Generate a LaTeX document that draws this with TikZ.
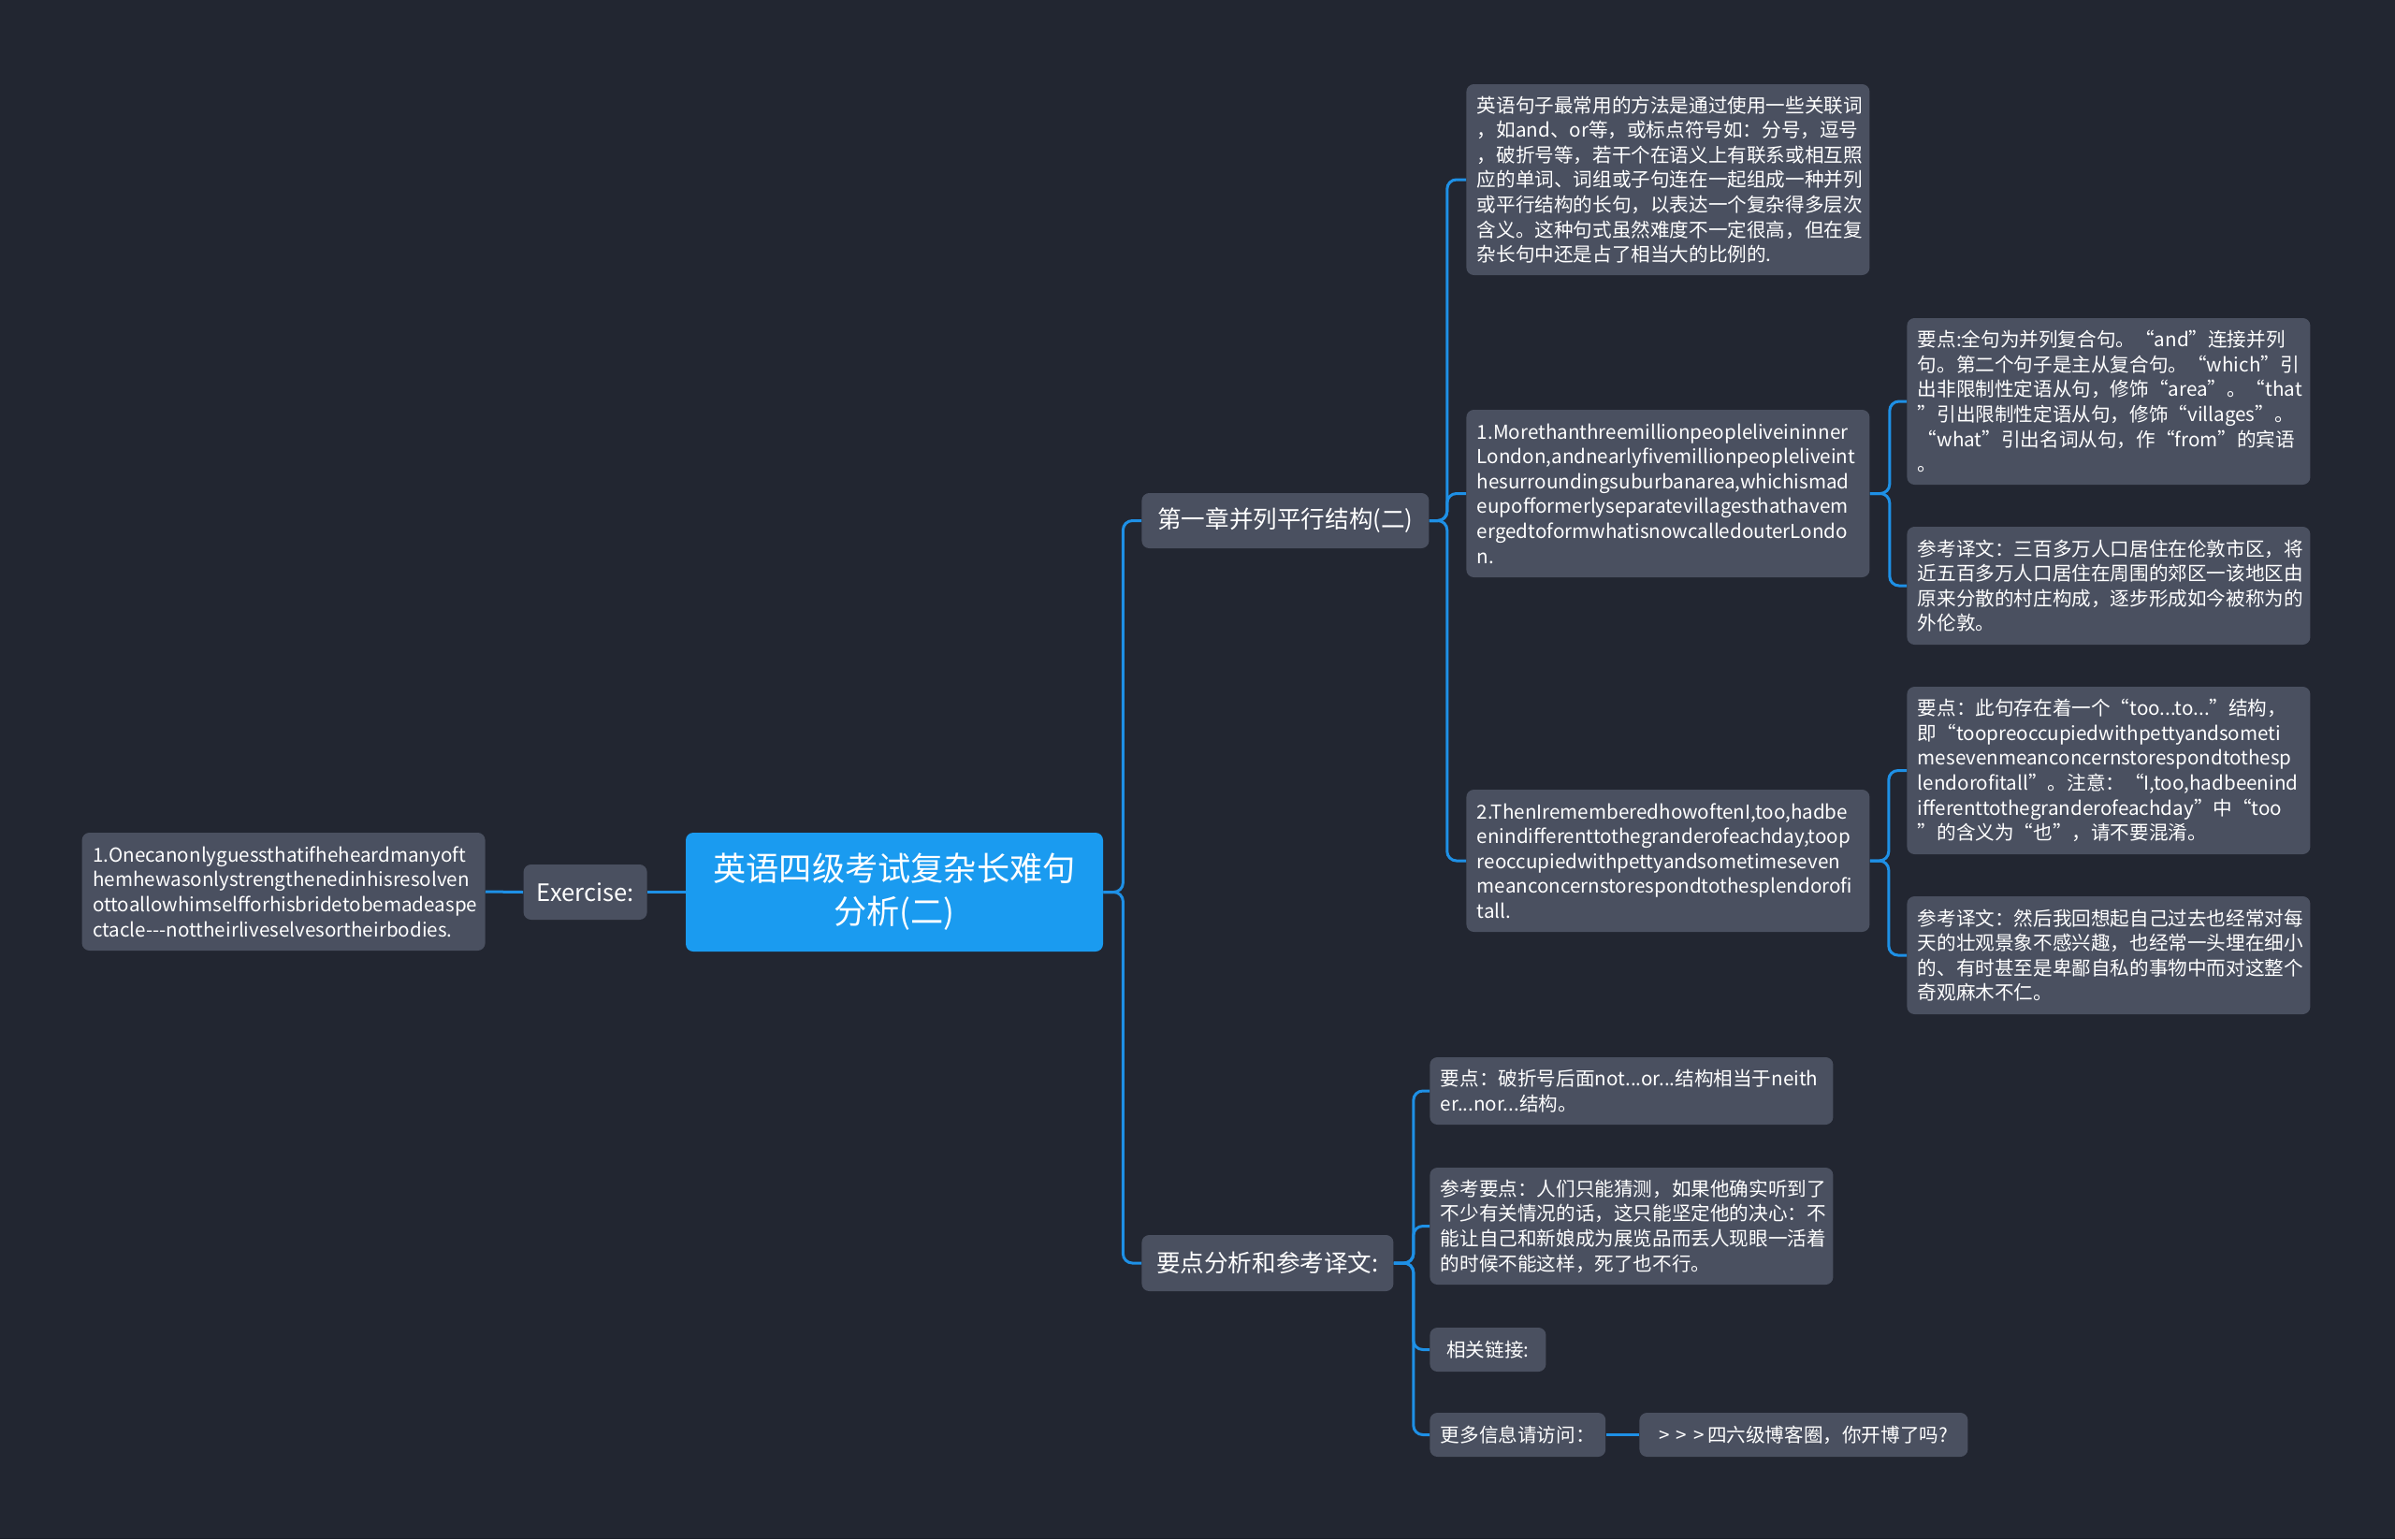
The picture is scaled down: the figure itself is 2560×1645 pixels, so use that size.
\documentclass[tikz,border=0pt]{standalone}
\usepackage{fontspec}
\setmainfont{Noto Sans CJK SC}
\usepackage{tikz}
\definecolor{bgdark}{RGB}{34,38,49}
\definecolor{nodegray}{RGB}{74,80,96}
\definecolor{rootblue}{RGB}{26,155,240}
\definecolor{linkblue}{RGB}{30,144,230}
\tikzset{
  root/.style={rectangle,rounded corners=4pt,fill=rootblue,text=white,align=center,
              font=\fontsize{17.6pt}{23pt}\selectfont,minimum width=223pt,minimum height=63.5pt,inner sep=0pt},
  topic/.style={rectangle,rounded corners=4pt,fill=nodegray,text=white,align=center,
              font=\fontsize{12.8pt}{16pt}\selectfont,minimum height=29.5pt,inner sep=0pt},
  leaf/.style={rectangle,rounded corners=4pt,fill=nodegray,text=white,align=left,
              font=\fontsize{10.3pt}{13.3pt}\selectfont,inner xsep=5.75pt,inner ysep=0pt,text width=204pt},
  tag/.style={rectangle,rounded corners=4pt,fill=nodegray,text=white,
              font=\fontsize{10.3pt}{13.3pt}\selectfont,inner xsep=5.75pt,inner ysep=0pt,minimum height=23.5pt},
  link/.style={draw=linkblue,line width=1.5pt,rounded corners=5pt},
}

\begin{document}
\begin{tikzpicture}[x=0.5pt,y=-0.5pt]
  \fill[bgdark] (0,0) rectangle (2560,1645);
  \useasboundingbox (0,0) rectangle (2560,1645);
  % centre and left side
  \node[root] (main) at (956,953.5) {英语四级考试复杂长难句\\分析(二)};
  \node[topic,anchor=east,minimum width=66pt] (exer) at (692,953.5) {Exercise:};
  \node[leaf,anchor=east,minimum height=63pt] (exleaf) at (519,953)
    {1.Onecanonlyguessthatifheheardmanyoft\\
     hemhewasonlystrengthenedinhisresolven\\
     ottoallowhimselfforhisbridetobemadeaspe\\
     ctacle-{}-{}-nottheirliveselvesortheirbodies.};
  % main branches
  \node[topic,anchor=west,minimum width=153.5pt] (ch1) at (1220,556.5) {第一章并列平行结构(二)};
  \node[topic,anchor=west,minimum width=134.5pt,minimum height=30pt] (ana) at (1220,1350) {要点分析和参考译文:};
  % chapter leaves
  \node[leaf,anchor=west,minimum height=102pt] (intro) at (1567,192)
    {英语句子最常用的方法是通过使用一些关联词\\
     ，如and、or等，或标点符号如：分号，逗号\\
     ，破折号等，若干个在语义上有联系或相互照\\
     应的单词、词组或子句连在一起组成一种并列\\
     或平行结构的长句，以表达一个复杂得多层次\\
     含义。这种句式虽然难度不一定很高，但在复\\
     杂长句中还是占了相当大的比例的.};
  \node[leaf,anchor=west,minimum height=89.5pt] (sent1) at (1567,527.5)
    {1.Morethanthreemillionpeopleliveininner\\
     London,andnearlyfivemillionpeopleliveint\\
     hesurroundingsuburbanarea,whichismad\\
     eupofformerlyseparatevillagesthathavem\\
     ergedtoformwhatisnowcalledouterLondo\\
     n.};
  \node[leaf,anchor=west,minimum height=76pt] (sent2) at (1567,920)
    {2.ThenIrememberedhowoftenI,too,hadbe\\
     enindifferenttothegranderofeachday,toop\\
     reoccupiedwithpettyandsometimeseven\\
     meanconcernstorespondtothesplendorofi\\
     tall.};
  \node[leaf,anchor=west,minimum height=89pt] (key1) at (2038,429)
    {要点:全句为并列复合句。“and”连接并列\\
     句。第二个句子是主从复合句。“which”引\\
     出非限制性定语从句，修饰“area”。“that\\
     ”引出限制性定语从句，修饰“villages”。\\
     “what”引出名词从句，作“from”的宾语\\
     。};
  \node[leaf,anchor=west,minimum height=63pt] (tr1) at (2038,626)
    {参考译文：三百多万人口居住在伦敦市区，将\\
     近五百多万人口居住在周围的郊区一该地区由\\
     原来分散的村庄构成，逐步形成如今被称为的\\
     外伦敦。};
  \node[leaf,anchor=west,minimum height=89.5pt] (key2) at (2038,823.5)
    {要点：此句存在着一个“too...to...”结构，\\
     即“toopreoccupiedwithpettyandsometi\\
     mesevenmeanconcernstorespondtothesp\\
     lendorofitall”。注意：“I,too,hadbeenind\\
     ifferenttothegranderofeachday”中“too\\
     ”的含义为“也”，请不要混淆。};
  \node[leaf,anchor=west,minimum height=63pt] (tr2) at (2038,1021)
    {参考译文：然后我回想起自己过去也经常对每\\
     天的壮观景象不感兴趣，也经常一头埋在细小\\
     的、有时甚至是卑鄙自私的事物中而对这整个\\
     奇观麻木不仁。};
  % analysis leaves
  \node[leaf,anchor=west,minimum height=36pt] (key3) at (1528,1166)
    {要点：破折号后面not...or...结构相当于neith\\
     er...nor...结构。};
  \node[leaf,anchor=west,minimum height=62.5pt] (tr3) at (1528,1310.5)
    {参考要点：人们只能猜测，如果他确实听到了\\
     不少有关情况的话，这只能坚定他的决心：不\\
     能让自己和新娘成为展览品而丢人现眼一活着\\
     的时候不能这样，死了也不行。};
  \node[tag,anchor=west,minimum width=62pt] (links) at (1528,1442.5) {相关链接:};
  \node[tag,anchor=west,minimum width=90.5pt] (more) at (1528,1533.5) {更多信息请访问：};
  \node[tag,anchor=west,minimum width=175.5pt] (blog) at (1752,1533.5) {>\,\,>\,\,>\,四六级博客圈，你开博了吗?};
  % connectors
  \draw[link] (main.west) -- (exer.east);
  \draw[link] (exer.west) -- (exleaf.east);
  \foreach \t in {ch1,ana} \draw[link] (main.east) -- ++(21,0) |- (\t.west);
  \foreach \t in {intro,sent1,sent2} \draw[link] (ch1.east) -- ++(19,0) |- (\t.west);
  \foreach \t in {key1,tr1} \draw[link] (sent1.east) -- ++(21,0) |- (\t.west);
  \foreach \t in {key2,tr2} \draw[link] (sent2.east) -- ++(20,0) |- (\t.west);
  \foreach \t in {key3,tr3,links,more} \draw[link] (ana.east) -- ++(21,0) |- (\t.west);
  \draw[link] (more.east) -- (blog.west);
\end{tikzpicture}
\end{document}
